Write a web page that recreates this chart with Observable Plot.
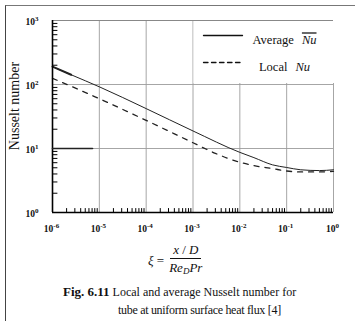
<!DOCTYPE html>
<html><head><meta charset="utf-8">
<script src="https://cdn.jsdelivr.net/npm/d3@7"></script>
<script src="https://cdn.jsdelivr.net/npm/@observablehq/plot@0.6"></script>
<style>
html,body{margin:0;padding:0;background:#fff;}
body{width:355px;height:321px;overflow:hidden;position:relative;font-family:"Liberation Serif","Times New Roman",serif;color:#111;}
#frame{position:absolute;left:5px;top:5px;width:360px;height:330px;border-left:1px solid #444;border-top:1px solid #777;}
#chart{position:absolute;left:0;top:0;}
#ytitle{position:absolute;left:15px;top:106px;font-size:14px;white-space:nowrap;transform:translate(-50%,-50%) rotate(-90deg);}
#xlabel{position:absolute;left:148px;top:243px;font-size:13px;display:flex;align-items:center;}
#xlabel .frac{display:inline-flex;flex-direction:column;align-items:center;margin-left:5px;}
#xlabel .num{line-height:14px;padding:0 3px 1px 3px;border-bottom:1px solid #111;}
#xlabel .den{line-height:14px;padding-top:2px;}
#xlabel sub{font-size:9px;vertical-align:-2px;}
#caption{position:absolute;left:63px;top:283px;font-size:12px;line-height:18px;white-space:nowrap;}
#caption b{font-size:13px;}
#caption .l2{padding-left:55px;letter-spacing:-0.3px;}
</style></head>
<body>
<div id="frame"></div>
<div id="chart"></div>
<div id="ytitle">Nusselt number</div>
<div id="xlabel"><i>ξ</i>&nbsp;=<span class="frac"><span class="num"><i>x</i> / <i>D</i></span><span class="den"><i>Re</i><sub><i>D</i></sub><i>Pr</i></span></span></div>
<div id="caption"><b>Fig. 6.11</b> Local and average Nusselt number for<br><span class="l2">tube at uniform surface heat flux [4]</span></div>
<script>
// tick values and labels
const xiTicks = [1e-6, 1e-5, 1e-4, 1e-3, 1e-2, 1e-1, 1];
const xiTickLabels = ["10^-6", "10^-5", "10^-4", "10^-3", "10^-2", "10^-1", "10^0"];
const nuTicks = [1, 10, 100, 1000];
const nuTickLabels = ["10^0", "10^1", "10^2", "10^3"];

// Average Nusselt number (solid)
const avgXi = [1e-6, 2.5e-6, 1e-5, 1e-4, 1e-3, 1e-2, 2e-2, 5e-2, 1e-1, 2e-1, 5e-1, 1];
const avgNu = [190, 142, 92, 42, 18.8, 8.7, 7.2, 5.55, 5.05, 4.65, 4.52, 4.65];

// Local Nusselt number (dashed)
const localXi = [1e-6, 1e-5, 1e-4, 1e-3, 3e-3, 1e-2, 2e-2, 5e-2, 1e-1, 2e-1, 5e-1, 1];
const localNu = [125, 60, 27.5, 12.3, 8.4, 6.1, 5.4, 4.85, 4.45, 4.3, 4.3, 4.4];

const seriesNames = ["Average Nu", "Local Nu"];

const avg = avgXi.map((x, i) => ({xi: x, nu: avgNu[i]}));
const loc = localXi.map((x, i) => ({xi: x, nu: localNu[i]}));

const minorXi = xiTicks.slice(0, -1).flatMap(d => d3.range(2, 10).map(m => m * d));
const minorNu = nuTicks.slice(0, -1).flatMap(d => d3.range(2, 10).map(m => m * d));

const tickShape = {draw(context, l) { context.moveTo(0, 0); context.lineTo(0, -l); }};
const grid = "#9c9c9c";

const chart = Plot.plot({
  width: 355, height: 245,
  marginLeft: 52, marginRight: 22, marginTop: 20, marginBottom: 33,
  style: {fontFamily: "'Liberation Serif', 'Times New Roman', serif", fontSize: "9.5px", background: "transparent", overflow: "visible"},
  x: {type: "log", domain: [xiTicks[0], xiTicks[xiTicks.length - 1]], axis: null},
  y: {type: "log", domain: [nuTicks[0], nuTicks[nuTicks.length - 1]], axis: null},
  marks: [
    Plot.ruleX(xiTicks.slice(1), {x: d => d, stroke: grid, strokeWidth: 0.9}),
    Plot.ruleY(nuTicks.slice(1, -1), {y: d => d, stroke: grid, strokeWidth: 0.9}),
    // legend background
    Plot.rect([0], {x1: () => xiTicks[3], x2: () => xiTicks[6], y1: () => nuTicks[2], y2: () => nuTicks[3],
      fill: "white", insetLeft: 1, insetBottom: 1, insetTop: -1, insetRight: -3}),
    Plot.ruleY(nuTicks.slice(-1), {y: d => d, stroke: "#888", strokeWidth: 1}),
    // curves
    Plot.line(loc, {x: "xi", y: "nu", stroke: "#222", strokeWidth: 1.3, strokeDasharray: "5,6", curve: "monotone-x"}),
    Plot.line(avg, {x: "xi", y: "nu", stroke: "#222", strokeWidth: 1, curve: "monotone-x"}),
    Plot.line(avg.slice(0, 2), {x: "xi", y: "nu", stroke: "#222", strokeWidth: 2}),
    // axes lines
    Plot.ruleX(xiTicks.slice(0, 1), {x: d => d, stroke: "#000", strokeWidth: 1.6}),
    Plot.ruleY(nuTicks.slice(0, 1), {y: d => d, stroke: "#000", strokeWidth: 1.6}),
    // minor ticks (inside)
    Plot.vector(minorXi, {x: d => d, frameAnchor: "bottom", length: 4, anchor: "start", shape: tickShape, stroke: "#000", strokeWidth: 1}),
    Plot.vector(minorNu, {y: d => d, frameAnchor: "left", rotate: 90, length: 4.5, anchor: "start", shape: tickShape, stroke: "#000", strokeWidth: 1}),
    Plot.vector(nuTicks.slice(1, 2), {y: d => d, frameAnchor: "left", rotate: 90, length: 40, anchor: "start", shape: tickShape, stroke: "#222", strokeWidth: 1.6}),
    // tick labels
    Plot.text(xiTicks, {x: d => d, text: (d, i) => xiTickLabels[i], frameAnchor: "bottom", dy: 19, dx: -1, fontWeight: "bold"}),
    Plot.text(nuTicks, {y: d => d, text: (d, i) => nuTickLabels[i], frameAnchor: "left", dx: -14, dy: 1, textAnchor: "end", fontWeight: "bold"}),
    // legend
    Plot.vector(seriesNames, {frameAnchor: "top-right", rotate: 90, length: 39, anchor: "start", shape: tickShape,
      stroke: "#111", strokeWidth: 1.3}),
    Plot.text(seriesNames, {frameAnchor: "top-right", text: d => d, textAnchor: "middle", dx: -49, fontSize: 12.5})
  ]
});
document.getElementById("chart").appendChild(chart);

const svg = d3.select(chart);
// superscripts for tick labels
svg.selectAll("text").each(function() {
  const t = this.textContent;
  const m = t.match(/^10\^(.+)$/);
  if (m) {
    this.textContent = "10";
    d3.select(this).append("tspan").attr("dy", "-0.5em").attr("font-size", "7px").text(m[1]);
  }
});
// legend rows: position vertically, style Nu
const rowDy = [15, 42];
svg.selectAll("text").filter(function() { return seriesNames.includes(this.textContent); }).each(function() {
  const name = this.textContent;
  const i = seriesNames.indexOf(name);
  this.textContent = name.split(" ")[0];
  const tr = this.getAttribute("transform") || "";
  this.setAttribute("transform", tr + ` translate(0,${rowDy[i]})`);
  const sp = d3.select(this).append("tspan").attr("dx", 8).attr("font-style", "italic").text("Nu");
  if (i === 0) sp.style("text-decoration", "overline");
});
// legend lines
const vecGroups = svg.selectAll("g[aria-label='vector']").nodes();
const legendG = d3.select(vecGroups[vecGroups.length - 1]);
legendG.selectAll("path").each(function(d, k) {
  const tr = this.getAttribute("transform") || "";
  this.setAttribute("transform", `translate(-130,${rowDy[k]}) ` + tr);
  if (k === 1) this.setAttribute("stroke-dasharray", "4.5,3.5");
});
</script>
</body></html>
